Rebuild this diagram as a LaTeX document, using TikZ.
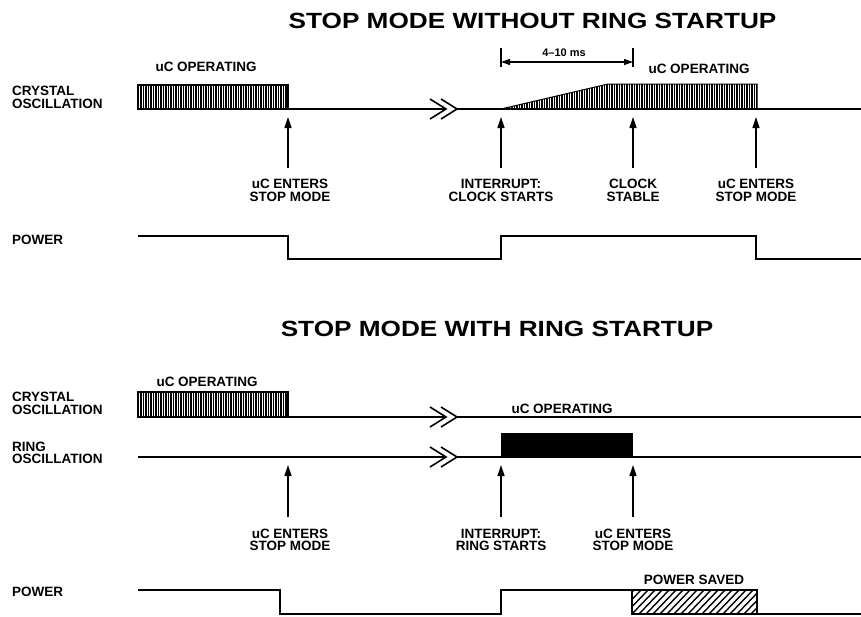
\documentclass[tikz,border=0pt]{standalone}
\usepackage{fontspec}
\usepackage{graphicx}
\setmainfont{Liberation Sans}
\usetikzlibrary{arrows.meta}
\begin{document}
\begin{tikzpicture}[x=1pt,y=-1pt,
  sig/.style={line width=1.6pt, line join=miter},
  uparr/.style={line width=1.4pt, -{Triangle[length=11pt,width=7pt]}},
  dimarr/.style={line width=1.2pt, {Triangle[length=9pt,width=6pt]}-{Triangle[length=9pt,width=6pt]}},
  lbl/.style={font=\bfseries\fontsize{13.5}{12.5}\selectfont, inner sep=0pt, align=center},
  side/.style={lbl, anchor=west, align=left},
  ttl/.style={inner sep=0pt, font=\bfseries\fontsize{22}{24}\selectfont},
  stripe/.style={line width=1.8pt},
  hatch/.style={line width=1.4pt},
  brk/.pic={\draw[sig] (-8,-10) -- (8,0) -- (-8,10); \draw[sig] (3,-10) -- (19,0) -- (3,10);}
]
\useasboundingbox (0,0) rectangle (861,616);
\fill[white] (0,0) rectangle (861,616);

% ---------------- TOP PANEL ----------------
\node[ttl] (t1) at (532.5,20.5) {\scalebox{1.19}[1]{STOP MODE WITHOUT RING STARTUP}};

\node[side] (c1) at (12,97.5) {CRYSTAL\\OSCILLATION};
\node[side] (p1) at (12,240) {POWER};

\node[lbl] (op1) at (206,67) {uC OPERATING};
\node[lbl] (op2) at (699,69) {uC OPERATING};

% crystal block
\foreach \x in {138.5,141,...,287} \draw[stripe] (\x,85) -- (\x,109);
\draw[line width=1.2pt] (137.6,85) rectangle (288,109);
% crystal line
\draw[sig] (288,109) -- (446,109);
\pic at (438,109) {brk};
\draw[sig] (457,109) -- (861,109);
% ramp block
\begin{scope}
  \clip (501,109) -- (608,84) -- (757,84) -- (757,109) -- cycle;
  \foreach \x in {502,504.5,...,757} \draw[stripe] (\x,83) -- (\x,110);
\end{scope}
\draw[line width=1pt] (501,109) -- (608,84) -- (757,84) -- (757,109);

% dimension 4-10 ms
\coordinate (d1) at (501,48); \coordinate (d1b) at (501,67);
\coordinate (d2) at (633,48); \coordinate (d2b) at (633,67);
\draw[line width=1.2pt] (d1) -- (d1b);
\draw[line width=1.2pt] (d2) -- (d2b);
\coordinate (da) at (501,62); \coordinate (db) at (633,62);
\draw[dimarr] (da) -- (db);
\node[inner sep=0pt, font=\bfseries\fontsize{11}{12}\selectfont] (dl) at (564,53) {4--10 ms};

% arrows top
\foreach \n/\x in {1/288,2/501,3/633,4/756}{
  \coordinate (ab\n) at (\x,168); \coordinate (at\n) at (\x,117);
  \draw[uparr] (ab\n) -- (at\n);
}
\node[lbl] (l1) at (290,190.5) {uC ENTERS\\STOP MODE};
\node[lbl] (l2) at (501,190.5) {INTERRUPT:\\CLOCK STARTS};
\node[lbl] (l3) at (633,190.5) {CLOCK\\STABLE};
\node[lbl] (l4) at (756,190.5) {uC ENTERS\\STOP MODE};

% power top
\draw[sig] (138,236) -- (288,236) -- (288,259) -- (501,259) -- (501,236) -- (756,236) -- (756,259) -- (861,259);

% ---------------- BOTTOM PANEL ----------------
\node[ttl] (t2) at (497,329) {\scalebox{1.19}[1]{STOP MODE WITH RING STARTUP}};

\node[side] (c2) at (12,403.5) {CRYSTAL\\OSCILLATION};
\node[side] (r2) at (12,453) {RING\\OSCILLATION};
\node[side] (p2) at (12,592) {POWER};

\node[lbl] (op3) at (207,382) {uC OPERATING};
\node[lbl] (op4) at (562,409) {uC OPERATING};

% crystal block
\foreach \x in {138.5,141,...,287} \draw[stripe] (\x,392) -- (\x,417);
\draw[line width=1.2pt] (137.6,392) rectangle (288,417);
\draw[sig] (288,417) -- (446,417);
\pic at (438,417) {brk};
\draw[sig] (457,417) -- (861,417);

% ring
\draw[sig] (138,457) -- (446,457);
\pic at (438,457) {brk};
\draw[sig] (457,457) -- (861,457);
\fill (501,433) rectangle (633,457.8);

% arrows bottom
\foreach \n/\x in {5/288,6/501,7/633}{
  \coordinate (ab\n) at (\x,517); \coordinate (at\n) at (\x,465);
  \draw[uparr] (ab\n) -- (at\n);
}
\node[lbl] (l5) at (290,540) {uC ENTERS\\STOP MODE};
\node[lbl] (l6) at (501,540) {INTERRUPT:\\RING STARTS};
\node[lbl] (l7) at (633,540) {uC ENTERS\\STOP MODE};

% power bottom
\node[lbl] (ps) at (694,580) {POWER SAVED};
\begin{scope}
  \clip (632,590) rectangle (757,614);
  \foreach \x in {610,617,...,760} \draw[hatch] (\x,615) -- ++(25,-26);
\end{scope}
\draw[sig] (138,590) -- (280,590) -- (280,614) -- (501,614) -- (501,590) -- (632,590);
\draw[sig] (632,590) rectangle (757,614);
\draw[sig] (757,614) -- (861,614);
\end{tikzpicture}
\end{document}
